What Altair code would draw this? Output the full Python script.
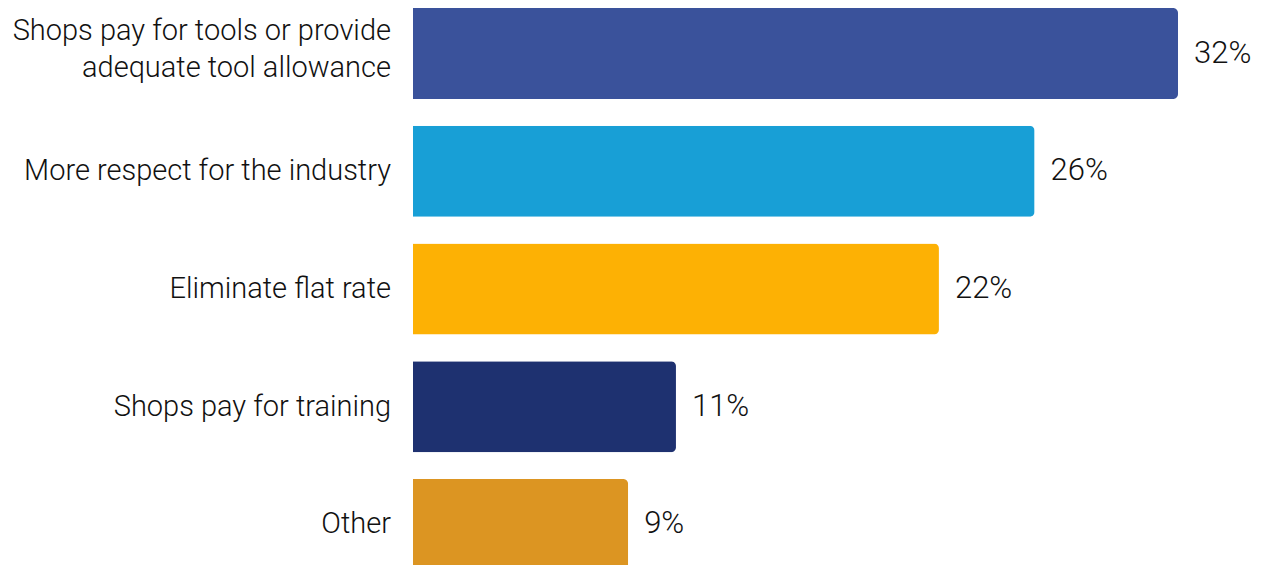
import altair as alt
import pandas as pd

categories = [
    "Shops pay for tools or provide|adequate tool allowance",
    "More respect for the industry",
    "Eliminate flat rate",
    "Shops pay for training",
    "Other",
]
values = [32, 26, 22, 11, 9]
colors = ["#3a529b", "#189fd6", "#fdb104", "#1e3170", "#dc9522"]

df = pd.DataFrame({"cat": categories, "val": values, "color": colors})
df["label"] = df["val"].astype(str) + "%"

y = alt.Y(
    "cat:N",
    sort=categories,
    title=None,
    scale=alt.Scale(paddingInner=0.227, paddingOuter=0.068),
    axis=None,
)
x = alt.X("val:Q", scale=alt.Scale(domain=[0, 32]), axis=None)

bars = alt.Chart(df).mark_bar(cornerRadiusTopRight=5, cornerRadiusBottomRight=5).encode(
    x=x, y=y, color=alt.Color("color:N", scale=None)
)
label_style = dict(
    align="right", baseline="middle", lineBreak="|", lineHeight=37,
    font="Roboto", fontSize=29, fontWeight=300, color="#111111"
)
cats_single = alt.Chart(df).transform_filter(
    "indexof(datum.cat, '|') < 0"
).mark_text(**label_style).encode(x=alt.value(-22), y=y, text="cat:N")
cats_multi = alt.Chart(df).transform_filter(
    "indexof(datum.cat, '|') >= 0"
).mark_text(dy=-22.5, **label_style).encode(x=alt.value(-22), y=y, text="cat:N")
text = alt.Chart(df).mark_text(
    align="left", baseline="middle", dx=16, font="Roboto", fontSize=31, fontWeight=300, color="#111111"
).encode(x=x, y=y, text="label:N")

chart = (
    (bars + cats_single + cats_multi + text)
    .properties(
        width=765,
        height=578,
        background="white",
        autosize=alt.AutoSizeParams(type="none"),
        padding={"left": 413, "top": 0, "right": 88, "bottom": 0},
    )
    .configure_view(strokeWidth=0, stroke="transparent")
)

chart.save("out.html", embed_options={"renderer": "svg", "actions": False})
